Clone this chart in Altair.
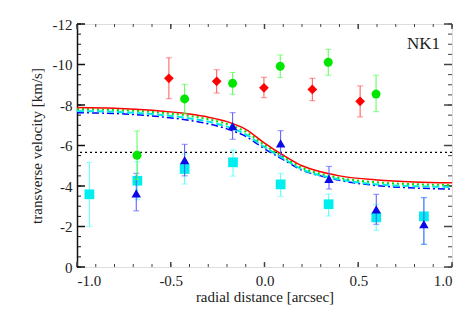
import altair as alt
import pandas as pd

# ---- data ----
red_x = [-0.51, -0.255, -0.003, 0.255, 0.51]
red_y = [-9.32, -9.17, -8.85, -8.77, -8.18]
red_hi = [-10.33, -9.74, -9.37, -9.32, -8.94]
red_lo = [-8.31, -8.59, -8.36, -8.21, -7.41]

green_x = [-0.68, -0.426, -0.17, 0.084, 0.34, 0.595]
green_y = [-5.52, -8.30, -9.07, -9.91, -10.11, -8.54]
green_hi = [-6.72, -9.02, -9.61, -10.47, -10.75, -9.47]
green_lo = [-4.32, -7.59, -8.53, -9.35, -9.47, -7.67]

blue_x = [-0.684, -0.426, -0.17, 0.086, 0.344, 0.596, 0.85]
blue_y = [-3.64, -5.28, -6.96, -6.11, -4.35, -2.85, -2.12]
blue_hi = [-4.63, -6.06, -7.62, -6.73, -4.97, -3.59, -3.42]
blue_lo = [-2.77, -4.50, -6.31, -5.49, -3.85, -2.11, -1.12]

cyan_x = [-0.934, -0.678, -0.426, -0.168, 0.086, 0.342, 0.596, 0.85]
cyan_y = [-3.59, -4.26, -4.84, -5.17, -4.08, -3.10, -2.45, -2.50]
cyan_hi = [-5.17, -5.20, -5.58, -5.78, -4.63, -3.60, -3.09, -3.44]
cyan_lo = [-2.01, -3.32, -4.10, -4.49, -3.49, -2.52, -1.81, -1.14]

curve_x = [-1.0, -0.8, -0.6, -0.4, -0.3, -0.2, -0.1, 0.0, 0.1, 0.2, 0.3, 0.4, 0.6, 0.8, 1.0]
curve_red = [-7.88, -7.84, -7.74, -7.55, -7.40, -7.18, -6.80, -6.12, -5.52, -5.00, -4.70, -4.50, -4.30, -4.20, -4.16]
curve_green = [-7.80, -7.76, -7.66, -7.46, -7.30, -7.06, -6.68, -6.02, -5.44, -4.90, -4.60, -4.40, -4.18, -4.09, -4.05]
curve_cyan = [-7.70, -7.66, -7.55, -7.34, -7.18, -6.93, -6.55, -5.92, -5.36, -4.82, -4.52, -4.32, -4.08, -3.99, -3.95]
curve_blue = [-7.62, -7.58, -7.46, -7.24, -7.07, -6.82, -6.45, -5.84, -5.30, -4.78, -4.50, -4.28, -4.02, -3.90, -3.85]

ref_level = [-5.66]

x_major = [-1.0, -0.5, 0.0, 0.5, 1.0]
x_minor = [round(-1.0 + 0.1 * i, 2) for i in range(21)]
y_major = [0, -2, -4, -6, -8, -10, -12]
y_minor = [-0.5 * i for i in range(25)]

label_text = ["NK1"]

W, H = 375, 243
FONT = "Liberation Serif"

xs = alt.Scale(domain=[-1.0, 1.0], nice=False, zero=False)
ys = alt.Scale(domain=[0, -12], nice=False, zero=False)

xaxis = alt.Axis(values=x_major, title="radial distance [arcsec]", ticks=False, domain=False,
                 labelExpr="(datum.value < 0 ? '-' : '') + format(abs(datum.value), '.1f')",
                 labelFont=FONT, labelFontSize=15, labelColor="#222", labelPadding=6,
                 titleFont=FONT, titleFontSize=15, titleFontWeight="normal", titleColor="#222",
                 titlePadding=1, grid=False)
yaxis = alt.Axis(values=y_major, title="transverse velocity [km/s]", ticks=False, domain=True,
                 domainColor="#111", domainWidth=1.5,
                 labelExpr="datum.value < 0 ? '-' + (-datum.value) : '' + datum.value",
                 labelFont=FONT, labelFontSize=15, labelColor="#222", labelPadding=5,
                 titleFont=FONT, titleFontSize=15, titleFontWeight="normal", titleColor="#222",
                 titlePadding=8, grid=False)


def X(field="x"):
    return alt.X(f"{field}:Q", scale=xs, axis=xaxis)


def Y(field="y"):
    return alt.Y(f"{field}:Q", scale=ys, axis=yaxis)


layers = []

# inward axis ticks
dxM = pd.DataFrame({"x": x_major})
dxm = pd.DataFrame({"x": x_minor})
dyM = pd.DataFrame({"y": y_major})
dym = pd.DataFrame({"y": y_minor})
tc = "#444"
layers += [
    alt.Chart(dxm).mark_rule(color=tc, strokeWidth=1).encode(x=X(), y=alt.value(H), y2=alt.value(H - 3)),
    alt.Chart(dxM).mark_rule(color=tc, strokeWidth=1.5).encode(x=X(), y=alt.value(H), y2=alt.value(H - 5)),
    alt.Chart(dxm).mark_rule(color=tc, strokeWidth=1).encode(x=X(), y=alt.value(0), y2=alt.value(3)),
    alt.Chart(dxM).mark_rule(color=tc, strokeWidth=1.5).encode(x=X(), y=alt.value(0), y2=alt.value(5)),
    alt.Chart(dym).mark_rule(color="#111", strokeWidth=1).encode(y=Y(), x=alt.value(0), x2=alt.value(4)),
    alt.Chart(dyM).mark_rule(color="#111", strokeWidth=1.5).encode(y=Y(), x=alt.value(0), x2=alt.value(8)),
    alt.Chart(dym).mark_rule(color=tc, strokeWidth=1).encode(y=Y(), x=alt.value(W), x2=alt.value(W - 4)),
    alt.Chart(dyM).mark_rule(color=tc, strokeWidth=1.5).encode(y=Y(), x=alt.value(W), x2=alt.value(W - 8)),
]

# reference dotted line
layers.append(
    alt.Chart(pd.DataFrame({"y": ref_level})).mark_rule(color="black", strokeDash=[2, 3], strokeWidth=1.2)
    .encode(y=Y())
)

# model curves
curves = [
    (curve_red, "#ff0000", [], 1.5),
    (curve_green, "#00e000", [2, 3], 2),
    (curve_cyan, "#00e8e8", [7, 3], 2),
    (curve_blue, "#0000ff", [7, 3, 2, 3], 1.5),
]
for vals, col, dash, sw in reversed(curves):
    d = pd.DataFrame({"x": curve_x, "y": vals})
    mk = dict(color=col, strokeWidth=sw, interpolate="monotone")
    if dash:
        mk["strokeDash"] = dash
    layers.append(alt.Chart(d).mark_line(**mk).encode(x=X(), y=Y()))

# data points with error bars
series = [
    (cyan_x, cyan_y, cyan_hi, cyan_lo, "#00eeee", "#55ffff", "square", 95),
    (blue_x, blue_y, blue_hi, blue_lo, "#0a0ae6", "#5555ff", "triangle-up", 90),
    (green_x, green_y, green_hi, green_lo, "#00e600", "#55ff55", "circle", 80),
    (red_x, red_y, red_hi, red_lo, "#ff0000", "#ff5555", "diamond", 95),
]
for xv, yv, hv, lv, col, ecol, shape, size in series:
    d = pd.DataFrame({"x": xv, "y": yv, "hi": hv, "lo": lv})
    base = alt.Chart(d)
    layers += [
        base.mark_rule(color=ecol, strokeWidth=1).encode(x=X(), y=Y("lo"), y2="hi:Q"),
        base.mark_tick(color=ecol, orient="horizontal", size=6, thickness=1).encode(x=X(), y=Y("lo")),
        base.mark_tick(color=ecol, orient="horizontal", size=6, thickness=1).encode(x=X(), y=Y("hi")),
        base.mark_point(shape=shape, size=size, filled=True, color=col, opacity=1).encode(x=X(), y=Y()),
    ]

# panel label
layers.append(
    alt.Chart(pd.DataFrame({"t": label_text})).mark_text(
        font=FONT, fontSize=17, color="#222", align="right", baseline="alphabetic"
    ).encode(text="t:N", x=alt.value(W - 12), y=alt.value(25))
)

chart = alt.layer(*layers).properties(
    width=W, height=H,
    autosize=alt.AutoSizeParams(type="none"),
    padding={"left": 69, "top": 16, "right": 14, "bottom": 40},
).configure_view(stroke="#777", strokeWidth=2).configure(background="white")

chart.save("out.html", embed_options={"renderer": "svg", "actions": False})
